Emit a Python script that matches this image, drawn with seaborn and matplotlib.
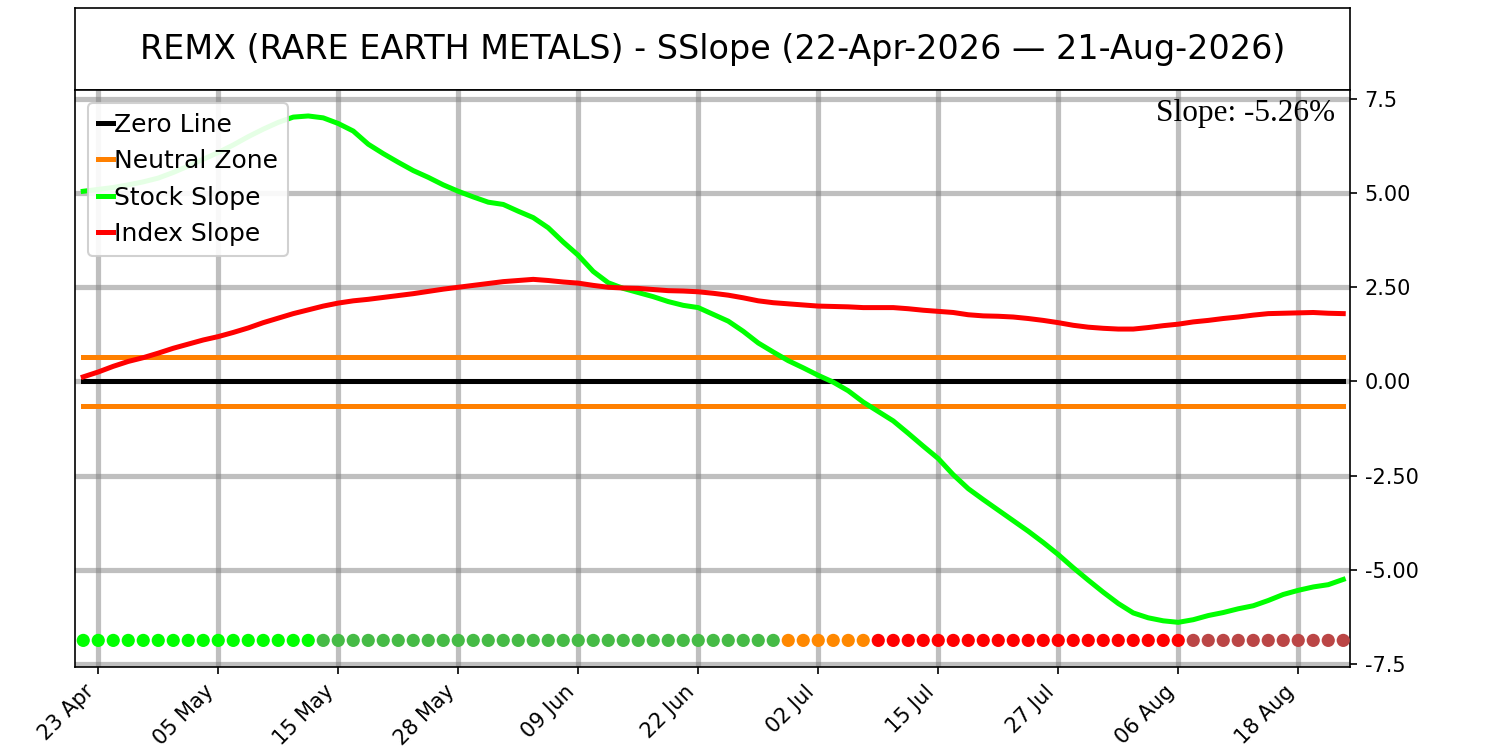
import matplotlib
matplotlib.use("Agg")
import matplotlib.pyplot as plt
import seaborn as sns
import pandas as pd
import numpy as np

# ---- data ----
ticker = "REMX"
name = "RARE EARTH METALS"
start_date = "2026-04-22"
end_date = "2026-08-21"
market_holidays = ["2026-05-25", "2026-06-19", "2026-07-03"]

stock_slope = [
    5.05, 5.10, 5.15, 5.22, 5.30, 5.40, 5.55, 5.72, 5.90, 6.08,
    6.28, 6.50, 6.70, 6.88, 7.02, 7.05, 7.00, 6.85, 6.65, 6.30,
    6.05, 5.82, 5.60, 5.42, 5.22, 5.05, 4.90, 4.76, 4.70, 4.52,
    4.35, 4.08, 3.70, 3.35, 2.92, 2.62, 2.47, 2.36, 2.25, 2.12,
    2.02, 1.96, 1.78, 1.60, 1.33, 1.02, 0.78, 0.55, 0.36, 0.16,
    -0.02, -0.25, -0.55, -0.80, -1.05, -1.38, -1.72, -2.05, -2.48, -2.85,
    -3.14, -3.42, -3.70, -3.98, -4.28, -4.60, -4.95, -5.28, -5.60, -5.90,
    -6.15, -6.28, -6.36, -6.40, -6.33, -6.22, -6.14, -6.04, -5.96, -5.82,
    -5.66, -5.55, -5.46, -5.40, -5.26,
]

index_slope = [
    0.12, 0.25, 0.40, 0.53, 0.63, 0.75, 0.88, 0.99, 1.10, 1.19,
    1.30, 1.42, 1.56, 1.68, 1.80, 1.90, 2.00, 2.08, 2.14, 2.18,
    2.23, 2.28, 2.33, 2.39, 2.45, 2.50, 2.55, 2.60, 2.65, 2.68,
    2.71, 2.68, 2.64, 2.61, 2.55, 2.50, 2.48, 2.47, 2.44, 2.41,
    2.40, 2.38, 2.34, 2.29, 2.22, 2.14, 2.09, 2.06, 2.03, 2.00,
    1.99, 1.98, 1.96, 1.96, 1.96, 1.93, 1.89, 1.86, 1.83, 1.77,
    1.74, 1.73, 1.71, 1.67, 1.62, 1.56, 1.49, 1.44, 1.41, 1.39,
    1.39, 1.43, 1.48, 1.52, 1.58, 1.62, 1.67, 1.71, 1.76, 1.80,
    1.81, 1.82, 1.83, 1.81, 1.80,
]

# U = above zone & rising, D = above zone & falling, N = neutral,
# S = below zone & falling, R = below zone & rising
signal = list("U" * 16 + "D" * 31 + "N" * 6 + "S" * 21 + "R" * 11)

neutral_band = 0.65
signal_level = -6.88
tick_labels = ["23 Apr", "05 May", "15 May", "28 May", "09 Jun", "22 Jun",
               "02 Jul", "15 Jul", "27 Jul", "06 Aug", "18 Aug"]
y_ticks = [-7.5, -5.0, -2.5, 0.0, 2.5, 5.0, 7.5]
y_tick_labels = ["-7.5", "-5.00", "-2.50", "0.00", "2.50", "5.00", "7.5"]

signal_colors = {"U": "#00ff00", "D": "#46bb46", "N": "#ff8800",
                 "S": "#ff0000", "R": "#bb4646"}

# ---- build frame ----
dates = pd.bdate_range(start_date, end_date, freq="C", holidays=market_holidays)
df = pd.DataFrame({
    "day": np.arange(len(dates)),
    "date": dates,
    "stock": stock_slope,
    "index": index_slope,
    "signal": signal,
})
df["zero"] = 0.0
df["upper"] = neutral_band
df["lower"] = -neutral_band
df["dot"] = signal_level

tick_pos = [int(df.index[df["date"].dt.strftime("%d %b") == lab][0]) for lab in tick_labels]

# ---- figure ----
fig = plt.figure(figsize=(10, 5), dpi=150)
ax_title = fig.add_axes([0.05, 0.88, 0.85, 0.109])
ax = fig.add_axes([0.05, 0.111, 0.85, 0.769])

ax_title.set_xticks([])
ax_title.set_yticks([])
ax_title.text(0.5, 0.5,
              f"{ticker} ({name}) - SSlope (22-Apr-2026 \u2014 21-Aug-2026)",
              ha="center", va="center", fontsize=16, transform=ax_title.transAxes)

lw = 2.4
sns.lineplot(data=df, x="day", y="zero", color="black", linewidth=lw,
             label="Zero Line", ax=ax)
sns.lineplot(data=df, x="day", y="upper", color="#ff8000", linewidth=lw,
             label="Neutral Zone", ax=ax)
sns.lineplot(data=df, x="day", y="lower", color="#ff8000", linewidth=lw, ax=ax)
sns.lineplot(data=df, x="day", y="stock", color="#00ff00", linewidth=lw,
             label="Stock Slope", ax=ax)
sns.lineplot(data=df, x="day", y="index", color="#ff0000", linewidth=lw,
             label="Index Slope", ax=ax)
sns.scatterplot(data=df, x="day", y="dot", hue="signal", palette=signal_colors,
                s=40, linewidth=0, legend=False, zorder=4, ax=ax)

ax.set_xlim(-0.55, 84.45)
ax.set_ylim(-7.58, 7.74)
ax.set_xticks(tick_pos)
ax.set_xticklabels(tick_labels, rotation=45, ha="right", fontsize=10)
ax.yaxis.tick_right()
ax.set_yticks(y_ticks)
ax.set_yticklabels(y_tick_labels, fontsize=10)
ax.set_xlabel("")
ax.set_ylabel("")
ax.set_axisbelow(True)
ax.grid(True, color="gray", alpha=0.5, linewidth=2.5)

ax.text(0.988, 0.985, f"Slope: {stock_slope[-1]:.2f}%", transform=ax.transAxes,
        ha="right", va="top", fontsize=15, family="Liberation Serif")

ax.legend(loc="upper left", fontsize=12, handlelength=0.6, handletextpad=0.05,
          framealpha=0.9)

fig.savefig("out.png", dpi=150)
